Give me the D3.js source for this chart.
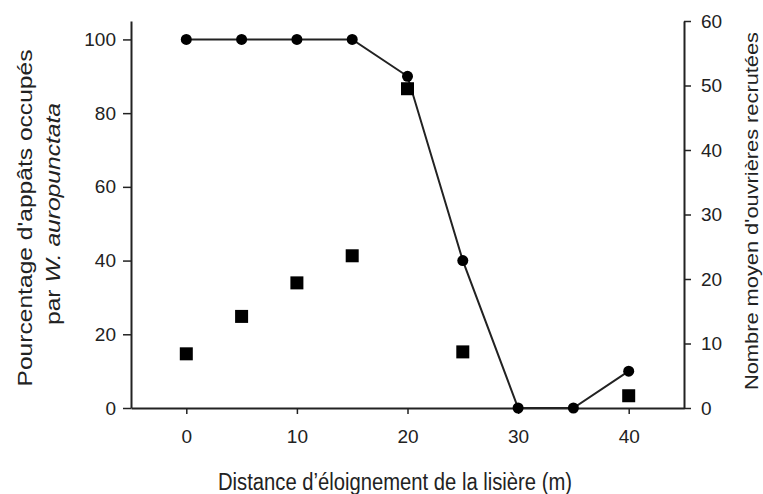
<!DOCTYPE html>
<html><head><meta charset="utf-8">
<script src="https://cdn.jsdelivr.net/npm/d3@7"></script>
<style>body{margin:0;background:#fff}svg{display:block}text{font-family:"Liberation Sans",Arial,sans-serif;fill:#222}</style>
</head><body><svg id="c" width="763" height="494"></svg>
<script>
const distances = [0, 5, 10, 15, 20, 25, 30, 35, 40];
const pctOccupied = [100, 100, 100, 100, 90, 40, 0, 0, 10];
const sqDistances = [0, 5, 10, 15, 20, 25, 40];
const meanWorkers = [8.4, 14.2, 19.4, 23.6, 49.5, 8.7, 1.9];
const xTicks = [0, 10, 20, 30, 40];
const yLeftTicks = [0, 20, 40, 60, 80, 100];
const yRightTicks = [0, 10, 20, 30, 40, 50, 60];

const svg = d3.select("#c");
const x = d3.scaleLinear().domain([-5, 45]).range([131, 684]);
const yL = d3.scaleLinear().domain([0, 105]).range([408, 21]);
const yR = d3.scaleLinear().domain([0, 60]).range([408, 21]);

function styleAxis(g){
  g.select(".domain").attr("stroke","#222").attr("stroke-width",2);
  g.selectAll(".tick line").attr("stroke","#222").attr("stroke-width",1.5);
  g.selectAll(".tick text").attr("font-size",19).attr("fill","#222").attr("font-family","Liberation Sans, Arial, sans-serif");
}
svg.append("g").attr("transform","translate(0,408)")
  .call(d3.axisBottom(x).tickValues(xTicks).tickSize(6).tickSizeOuter(0).tickPadding(16))
  .call(styleAxis);
svg.append("g").attr("transform","translate(131,0)")
  .call(d3.axisLeft(yL).tickValues(yLeftTicks).tickSize(8).tickSizeOuter(0).tickPadding(7))
  .call(styleAxis);
svg.append("g").attr("transform","translate(684,0)")
  .call(d3.axisRight(yR).tickValues(yRightTicks).tickSize(7).tickSizeOuter(0).tickPadding(10))
  .call(styleAxis);

// line + circles
const pts = distances.map((d,i)=>[d,pctOccupied[i]]);
svg.append("path").datum(pts)
  .attr("d", d3.line().x(d=>x(d[0])).y(d=>yL(d[1])))
  .attr("fill","none").attr("stroke","#222").attr("stroke-width",2);

const sq = sqDistances.map((d,i)=>[d,meanWorkers[i]]);
svg.selectAll("rect.sq").data(sq).join("rect").attr("class","sq")
  .attr("x",d=>x(d[0])-6.5).attr("y",d=>yR(d[1])-6.5)
  .attr("width",13).attr("height",13).attr("fill","#000");

svg.selectAll("circle.pt").data(pts).join("circle").attr("class","pt")
  .attr("cx",d=>x(d[0])).attr("cy",d=>yL(d[1])).attr("r",5.5).attr("fill","#000");

// titles
svg.append("g").attr("transform","translate(395,490) scale(1,1.15)")
  .append("text").attr("text-anchor","middle")
  .attr("font-size",20).attr("textLength",354).attr("lengthAdjust","spacingAndGlyphs")
  .text("Distance d\u2019éloignement de la lisière (m)");

const lt = svg.append("g").attr("transform","translate(32,218) rotate(-90)");
lt.append("text").attr("text-anchor","middle").attr("font-size",20)
  .attr("textLength",337).attr("lengthAdjust","spacingAndGlyphs")
  .text("Pourcentage d'appâts occupés");
const lt2 = svg.append("g").attr("transform","translate(60,214) rotate(-90)");
const t2 = lt2.append("text").attr("text-anchor","middle").attr("font-size",20)
  .attr("textLength",222).attr("lengthAdjust","spacingAndGlyphs");
t2.append("tspan").text("par ");
t2.append("tspan").attr("font-style","italic").text("W. auropunctata");

const rt = svg.append("g").attr("transform","translate(758,211) rotate(-90)");
rt.append("text").attr("text-anchor","middle").attr("font-size",18)
  .attr("textLength",358).attr("lengthAdjust","spacingAndGlyphs")
  .text("Nombre moyen d'ouvrières recrutées");
</script></body></html>
